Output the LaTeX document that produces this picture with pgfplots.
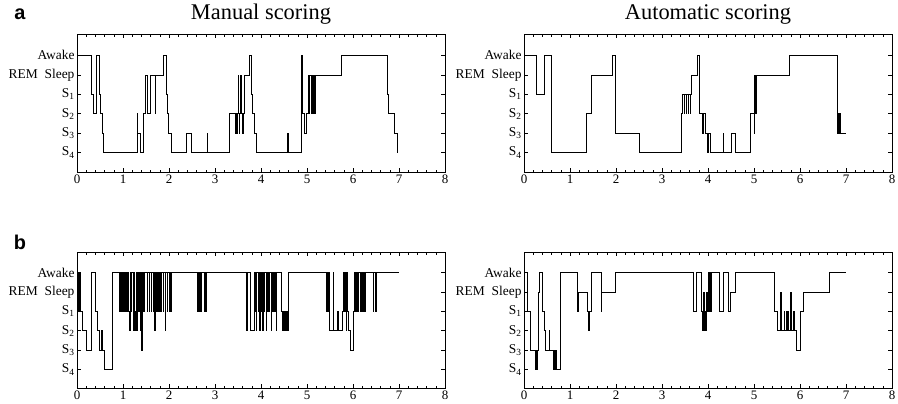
\documentclass[border=0pt]{standalone}
\usepackage{fontspec}
\setmainfont{Liberation Serif}
\newfontfamily\hv{Liberation Sans}
\usepackage{pgfplots}
\pgfplotsset{compat=1.18}
\pgfplotsset{hyp/.style={
  scale only axis, width=368bp, height=138bp,
  xmin=0, xmax=8, ymin=0, ymax=7.1,
  xtick={0,1,...,8}, minor x tick num=4,
  ytick={1,2,3,4,5,6},
  yticklabels={S\textsubscript{4},S\textsubscript{3},S\textsubscript{2},S\textsubscript{1},REM\ \ Sleep,Awake},
  tick align=inside, major tick length=4bp, minor tick length=2.5bp,
  axis line style={line width=0.8bp},
  every tick/.style={black, line width=0.5bp},
  xticklabel style={font=\fontsize{13}{13}\selectfont, yshift=1bp},
  yticklabel style={font=\fontsize{13.5}{14}\selectfont, xshift=1bp},
  /pgf/number format/assume math mode=true,
  clip=false,
}}
\begin{document}
\begin{tikzpicture}
\useasboundingbox (0bp,0bp) rectangle (898bp,-404bp);
\node[font=\hv\bfseries\fontsize{20}{20}\selectfont] at (20bp,-14bp) {a};
\node[font=\hv\bfseries\fontsize{20}{20}\selectfont] at (20bp,-242bp) {b};
\node[font=\fontsize{22.5}{24}\selectfont] at (261bp,-14bp) {Manual scoring};
\node[font=\fontsize{22.5}{24}\selectfont] at (708bp,-14bp) {Automatic scoring};
% a left
\begin{axis}[hyp, at={(77bp,-172bp)}, anchor=south west]
\addplot[black, line width=0.55bp, const plot] coordinates {
(0,6)(0.30,4)(0.35,3)(0.41,6)(0.48,4)(0.51,3)(0.54,2)(0.57,1)(1.30,3)(1.32,2)(1.38,1)(1.44,3)(1.49,5)(1.53,3)(1.60,5)(1.70,3)(1.71,5)(1.88,6)(1.93,4)(1.96,3)(1.99,2)(2.05,1)(2.38,2)(2.48,1)(2.83,2)(2.84,1)
(3.30,3)(3.43,2)(3.44,3)(3.465,2)(3.475,3)(3.50,5)(3.51,3)(3.525,2)(3.535,3)(3.555,5)(3.565,3)(3.60,2)(3.61,3)(3.63,5)(3.74,6)(3.79,4)(3.82,3)(3.85,2)(3.89,1)(4.58,2)(4.59,1)(4.88,6)(4.89,3)(4.93,2)(4.98,3)
(5.03,5)(5.045,3)(5.055,5)(5.085,3)(5.095,5)(5.125,3)(5.135,5)(5.165,3)(5.175,5)(5.74,6)(6.74,4)(6.77,3)(6.89,2)(6.96,1)(6.97,1)};
\end{axis}
% a right
\begin{axis}[hyp, at={(524bp,-172bp)}, anchor=south west]
\addplot[black, line width=0.55bp, const plot] coordinates {
(0,6)(0.27,4)(0.43,6)(0.59,1)(1.36,3)(1.46,5)(1.92,6)(1.99,2)(2.50,1)(3.41,3)(3.44,4)(3.475,3)(3.485,4)(3.52,3)(3.53,4)(3.565,3)(3.575,4)(3.61,3)(3.62,4)(3.64,5)(3.76,6)(3.80,3)(3.87,2)(3.89,3)(3.94,2)(3.98,1)(4.01,2)(4.04,1)(4.33,2)(4.34,1)(4.51,2)(4.60,1)(4.91,3)(5.00,2)(5.01,5)(5.03,3)(5.05,5)(5.76,6)(6.80,3)(6.82,2)(6.835,3)(6.855,2)(6.87,3)(6.88,2)(7.00,2)};
\end{axis}
% b left
\begin{axis}[hyp, height=136bp, ymin=0.05, ymax=7.05, at={(77bp,-388bp)}, anchor=south west]
\addplot[black, line width=0.55bp, const plot] coordinates {
(0,6)(0.02,4)(0.03,6)(0.05,4)(0.06,6)(0.08,4)(0.11,3)(0.20,2)(0.30,6)(0.40,4)(0.43,3)(0.49,2)(0.53,3)(0.54,2)(0.59,1)(0.76,6)
(0.91,4)(0.92,6)(0.935,4)(0.945,6)(0.96,4)(0.97,6)(0.985,4)(0.995,6)(1.01,4)(1.02,6)(1.03,4)(1.04,6)
(1.08,4)(1.09,6)(1.12,4)(1.13,3)(1.16,6)(1.18,4)(1.19,6)(1.215,3)(1.225,6)(1.25,3)(1.26,4)(1.27,3)(1.28,6)(1.305,3)(1.315,6)(1.34,4)(1.35,6)(1.37,3)(1.38,6)(1.395,4)(1.40,2)(1.41,4)(1.42,6)(1.45,4)(1.46,6)
(1.52,4)(1.53,6)(1.565,4)(1.575,6)(1.61,4)(1.62,6)(1.655,4)(1.665,6)(1.69,3)(1.70,6)(1.73,4)(1.74,6)(1.775,4)(1.785,6)(1.82,4)(1.83,6)(1.865,4)(1.875,6)(1.91,4)(1.915,3)(1.925,6)(1.955,4)(1.965,6)(2.00,4)(2.01,6)(2.035,4)(2.045,6)
(2.62,4)(2.63,6)(2.655,4)(2.665,6)(2.69,4)(2.70,6)(2.76,4)(2.77,6)(2.795,4)(2.805,6)
(3.67,4)(3.69,3)(3.71,6)(3.77,3)(3.85,6)(3.86,4)(3.87,6)(3.895,3)(3.905,6)(3.93,4)(3.94,6)(3.965,3)(3.975,6)(4.00,4)(4.01,6)(4.035,3)(4.045,6)(4.07,4)(4.08,6)(4.105,3)(4.115,6)(4.14,4)(4.15,6)(4.18,4)(4.19,6)(4.215,3)(4.225,6)(4.25,4)(4.26,6)(4.285,4)(4.295,6)(4.32,4)(4.325,3)(4.335,6)
(4.44,4)(4.46,3)(4.48,4)(4.49,3)(4.51,4)(4.52,3)(4.54,4)(4.55,3)(4.57,4)(4.58,3)(4.60,6)
(5.42,4)(5.43,6)(5.45,4)(5.46,6)(5.48,3)(5.57,6)(5.58,3)(5.66,4)(5.67,3)(5.76,4)(5.79,6)(5.82,4)(5.83,6)(5.85,3)(5.86,6)(5.88,4)(5.90,3)(5.93,2)(6.00,4)(6.02,6)(6.045,4)(6.055,6)(6.08,4)(6.09,6)(6.115,4)(6.125,6)(6.15,4)(6.16,6)(6.185,4)(6.195,6)(6.22,4)(6.23,6)(6.25,4)(6.26,6)(6.44,4)(6.45,6)(6.475,4)(6.485,6)(6.50,4)(6.51,6)(7.00,6)};
\end{axis}
% b right
\begin{axis}[hyp, height=136bp, ymin=0.05, ymax=7.05, at={(524bp,-388bp)}, anchor=south west]
\addplot[black, line width=0.55bp, const plot] coordinates {
(0,6)(0.07,4)(0.14,2)(0.25,1)(0.26,2)(0.27,1)(0.29,2)(0.32,5)(0.34,6)(0.39,4)(0.43,3)(0.47,2)(0.55,3)(0.56,2)(0.63,1)(0.645,2)(0.655,1)(0.67,2)(0.68,1)(0.70,2)(0.71,1)(0.79,6)(1.15,4)(1.19,5)(1.38,4)(1.40,3)(1.42,4)(1.46,6)(1.68,4)(1.69,5)(1.99,6)(3.69,4)(3.74,6)(3.86,4)(3.88,3)(3.90,5)(3.91,3)(3.93,4)(3.95,3)(3.96,5)(3.98,4)(4.00,6)(4.03,4)(4.04,6)(4.06,4)(4.07,6)(4.25,4)(4.33,6)(4.44,4)(4.48,5)(4.59,6)(5.43,4)(5.51,3)(5.58,5)(5.60,3)(5.65,4)(5.66,3)(5.70,4)(5.72,3)(5.74,4)(5.75,3)(5.79,5)(5.82,3)(5.86,4)(5.88,3)(5.92,2)(6.00,4)(6.07,5)(6.63,6)(6.99,6)};
\end{axis}
\end{tikzpicture}
\end{document}
